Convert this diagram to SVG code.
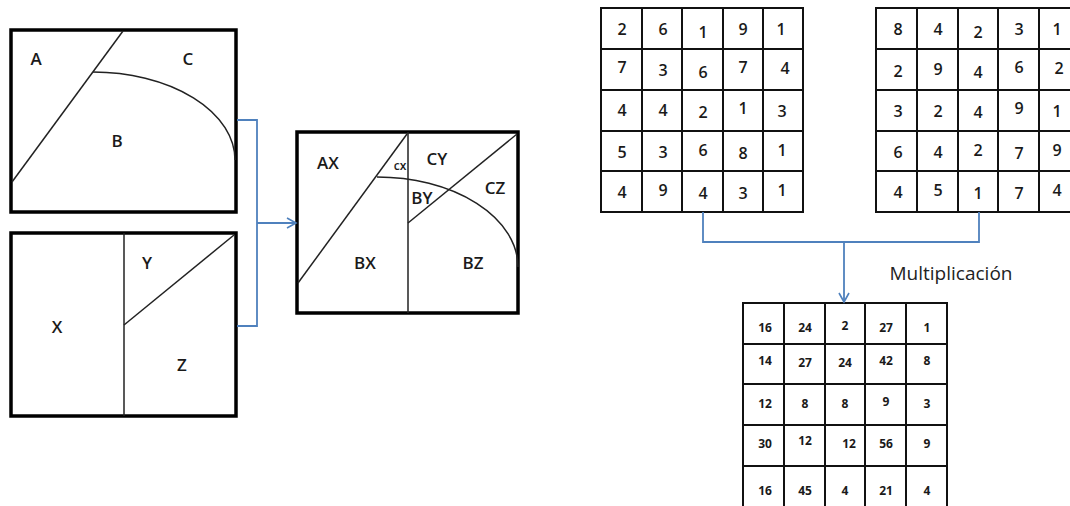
<svg xmlns="http://www.w3.org/2000/svg" width="1070" height="506" viewBox="0 0 1070 506">
<style>
.box{fill:#fff;stroke:#000;stroke-width:3.5}
.ln{fill:none;stroke:#222;stroke-width:1.5}
.lbl{font-family:"Open Sans","Noto Sans",sans-serif;font-size:17px;font-weight:600;fill:#1a1a1a;text-anchor:middle;dominant-baseline:central}
.sm{font-size:12px}
.cap{font-family:"Open Sans","Noto Sans",sans-serif;font-size:19px;fill:#222;text-anchor:middle;dominant-baseline:central}
.cell{fill:none;stroke:#111;stroke-width:2}
.num{font-family:"Open Sans","Noto Sans",sans-serif;font-size:16px;font-weight:600;fill:#1a1a1a;text-anchor:middle;dominant-baseline:central}
.rnum{font-family:"Open Sans","Noto Sans",sans-serif;font-size:12px;font-weight:700;fill:#1a1a1a;text-anchor:middle;dominant-baseline:central}
.con{fill:none;stroke:#4F81BD;stroke-width:1.8}
</style>
<defs>
<marker id="arr" markerWidth="12" markerHeight="12" refX="10" refY="6" orient="auto" markerUnits="userSpaceOnUse">
<path d="M1,1 L10,6 L1,11" fill="none" stroke="#4F81BD" stroke-width="1.6"/>
</marker>
</defs>

<g id="box-abc">
<rect class="box" x="11" y="30" width="225" height="182"/>
<line class="ln" x1="12" y1="182" x2="123" y2="31"/>
<path class="ln" d="M93,72 A142,88 0 0 1 235,160"/>
<text class="lbl" x="36" y="58">A</text>
<text class="lbl" x="188" y="58">C</text>
<text class="lbl" x="117" y="140">B</text>
</g>

<g id="box-xyz">
<rect class="box" x="11" y="233" width="225" height="183"/>
<line class="ln" x1="124" y1="233" x2="124" y2="416"/>
<line class="ln" x1="124" y1="325" x2="234" y2="235"/>
<text class="lbl" x="57" y="326">X</text>
<text class="lbl" x="147" y="262">Y</text>
<text class="lbl" x="182" y="364">Z</text>
</g>

<g id="box-result">
<rect class="box" x="297" y="132" width="221" height="181"/>
<line class="ln" x1="408" y1="132" x2="408" y2="313"/>
<line class="ln" x1="298" y1="283" x2="407" y2="134"/>
<path class="ln" d="M377,177 A141,90 0 0 1 518,267"/>
<line class="ln" x1="408" y1="223" x2="517" y2="134"/>
<text class="lbl" x="328" y="162">AX</text>
<text class="lbl sm" x="400" y="165">cx</text>
<text class="lbl" x="437" y="158">CY</text>
<text class="lbl" x="422" y="197">BY</text>
<text class="lbl" x="495" y="187">CZ</text>
<text class="lbl" x="365" y="262">BX</text>
<text class="lbl" x="473" y="262">BZ</text>
</g>

<g id="grid-a">
<rect class="cell" x="601" y="8" width="202" height="204"/>
<path class="cell" d="M642,8V212M682,8V212M723,8V212M763,8V212M601,49H803M601,90H803M601,131H803M601,171H803"/>
<text class="num" x="622" y="29">2</text><text class="num" x="663" y="29">6</text><text class="num" x="703" y="32">1</text><text class="num" x="743" y="29">9</text><text class="num" x="781" y="29">1</text>
<text class="num" x="622" y="67">7</text><text class="num" x="663" y="70">3</text><text class="num" x="703" y="72">6</text><text class="num" x="743" y="67">7</text><text class="num" x="785" y="68">4</text>
<text class="num" x="622" y="110">4</text><text class="num" x="663" y="110">4</text><text class="num" x="703" y="112">2</text><text class="num" x="743" y="108">1</text><text class="num" x="782" y="111">3</text>
<text class="num" x="622" y="152">5</text><text class="num" x="663" y="152">3</text><text class="num" x="703" y="150">6</text><text class="num" x="743" y="153">8</text><text class="num" x="782" y="150">1</text>
<text class="num" x="622" y="192">4</text><text class="num" x="663" y="190">9</text><text class="num" x="703" y="193">4</text><text class="num" x="743" y="193">3</text><text class="num" x="782" y="190">1</text>
</g>

<g id="grid-b">
<rect class="cell" x="876" y="8" width="204" height="204"/>
<path class="cell" d="M917,8V212M958,8V212M998,8V212M1039,8V212M876,49H1080M876,90H1080M876,131H1080M876,171H1080"/>
<text class="num" x="898" y="29">8</text><text class="num" x="938" y="29">4</text><text class="num" x="978" y="32">2</text><text class="num" x="1019" y="29">3</text><text class="num" x="1057" y="29">1</text>
<text class="num" x="898" y="71">2</text><text class="num" x="938" y="69">9</text><text class="num" x="978" y="72">4</text><text class="num" x="1019" y="67">6</text><text class="num" x="1059" y="68">2</text>
<text class="num" x="898" y="111">3</text><text class="num" x="938" y="111">2</text><text class="num" x="978" y="112">4</text><text class="num" x="1019" y="108">9</text><text class="num" x="1057" y="111">1</text>
<text class="num" x="898" y="152">6</text><text class="num" x="938" y="152">4</text><text class="num" x="978" y="150">2</text><text class="num" x="1019" y="153">7</text><text class="num" x="1057" y="150">9</text>
<text class="num" x="898" y="192">4</text><text class="num" x="938" y="190">5</text><text class="num" x="978" y="193">1</text><text class="num" x="1019" y="193">7</text><text class="num" x="1057" y="190">4</text>
</g>

<g id="grid-product">
<path class="cell" d="M743,506V303H947V506M784,303V506M825,303V506M865,303V506M906,303V506M743,344H947M743,384H947M743,425H947M743,466H947"/>
<text class="rnum" x="765" y="327">16</text><text class="rnum" x="805" y="327">24</text><text class="rnum" x="845" y="325">2</text><text class="rnum" x="886" y="327">27</text><text class="rnum" x="927" y="327">1</text>
<text class="rnum" x="765" y="360">14</text><text class="rnum" x="805" y="362">27</text><text class="rnum" x="845" y="362">24</text><text class="rnum" x="886" y="360">42</text><text class="rnum" x="927" y="360">8</text>
<text class="rnum" x="765" y="403">12</text><text class="rnum" x="805" y="403">8</text><text class="rnum" x="845" y="403">8</text><text class="rnum" x="886" y="401">9</text><text class="rnum" x="927" y="403">3</text>
<text class="rnum" x="765" y="443">30</text><text class="rnum" x="805" y="440">12</text><text class="rnum" x="849" y="443">12</text><text class="rnum" x="886" y="443">56</text><text class="rnum" x="927" y="443">9</text>
<text class="rnum" x="765" y="490">16</text><text class="rnum" x="805" y="490">45</text><text class="rnum" x="845" y="490">4</text><text class="rnum" x="886" y="490">21</text><text class="rnum" x="927" y="490">4</text>
</g>

<g id="connectors">
<path class="con" d="M237,120H257V326H237"/>
<line class="con" x1="257" y1="223" x2="296" y2="223" marker-end="url(#arr)"/>
<path class="con" d="M703,212V242H979V212"/>
<line class="con" x1="844" y1="242" x2="844" y2="302" marker-end="url(#arr)"/>
<text class="cap" x="951" y="273">Multiplicación</text>
</g>
</svg>
